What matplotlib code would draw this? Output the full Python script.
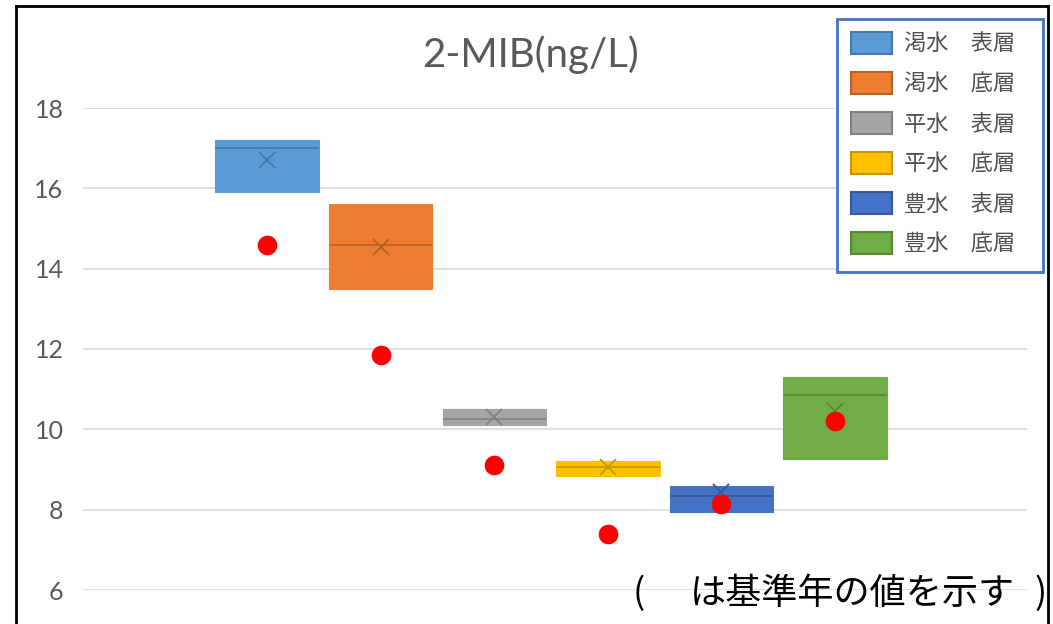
import matplotlib
matplotlib.use('Agg')
import matplotlib.pyplot as plt
import matplotlib.patches as mpatches
from matplotlib.lines import Line2D
import numpy as np

# 2-MIB concentrations by flow regime / depth (ng/L)
labels = ['渇水　表層', '渇水　底層', '平水　表層', '平水　底層', '豊水　表層', '豊水　底層']
q1 = [15.9, 13.5, 10.1, 8.85, 7.95, 9.25]
q3 = [17.2, 15.6, 10.5, 9.2, 8.6, 11.3]
median = [17.0, 14.6, 10.25, 9.05, 8.35, 10.85]
mean = [16.7, 14.55, 10.3, 9.05, 8.45, 10.45]
base_year = [14.6, 11.85, 9.1, 7.4, 8.15, 10.2]
colors = ['#5B9BD5', '#ED7D31', '#A5A5A5', '#FFC000', '#4472C4', '#70AD47']
yticks = [6, 8, 10, 12, 14, 16, 18]

W, H = 1053, 624
fig = plt.figure(figsize=(W / 100, H / 100), dpi=100)
ax = fig.add_axes([83 / W, 1 - 590 / H, (1027 - 83) / W, (590 - 108) / H])

x = np.arange(len(labels))
width = 0.91
dark = [tuple(np.array(matplotlib.colors.to_rgb(c)) * 0.78) for c in colors]

ax.bar(x, np.array(q3) - np.array(q1), bottom=q1, width=width,
       color=colors, edgecolor=colors, linewidth=0.8, zorder=2)
ax.hlines(median, x - width / 2, x + width / 2, colors=dark, linewidth=1.2, zorder=3)
for xi, m, c in zip(x, mean, dark):
    ax.plot(xi, m, marker='x', color=c, markersize=11, markeredgewidth=1.3, zorder=4)
ax.scatter(x, base_year, s=200, color='#FF0000', zorder=5, linewidths=0)

ax.set_xlim(-1.62, 6.69)
ax.set_ylim(6, 18)
ax.set_yticks(yticks)
ax.set_xticks([])
ax.tick_params(axis='y', length=0, pad=14, labelsize=18, labelcolor='#595959')
for lbl in ax.get_yticklabels():
    lbl.set_family('Lato')
ax.grid(axis='y', color='#D9D9D9', linewidth=1.2, zorder=0)
ax.set_axisbelow(True)
for s in ax.spines.values():
    s.set_visible(False)

fig.text(530 / W, 1 - 55 / H, '2-MIB(ng/L)', ha='center', va='center',
         fontsize=29, color='#595959', family='Lato')

# legend entries, boxed in a blue frame that reaches past the plot area
handles = [mpatches.Patch(facecolor=c, edgecolor=d, linewidth=1.5) for c, d in zip(colors, dark)]
leg_box = mpatches.Rectangle((837 / W, 1 - 272 / H), (1043 - 837) / W, (272 - 19) / H,
                             transform=fig.transFigure, facecolor='white',
                             edgecolor='#4472C4', linewidth=2, zorder=9)
fig.add_artist(leg_box)
leg = fig.legend(handles, labels, loc='upper left', bbox_to_anchor=(851 / W, 1 - 32 / H),
                 prop={'family': 'Noto Sans CJK JP', 'size': 16},
                 handlelength=1.85, handleheight=1.13, labelspacing=0.75,
                 borderpad=0, borderaxespad=0, handletextpad=0.55, frameon=False)
leg.set_zorder(10)
for t in leg.get_texts():
    t.set_color('#505050')

# note about the red markers
note_kw = dict(fontsize=26, color='black', va='center', family=['Noto Sans CJK JP', 'DejaVu Sans'])
y_note = 1 - 594 / H
fig.text(633 / W, y_note, '(', ha='left', **note_kw)
fig.text(690 / W, y_note, 'は基準年の値を示す', ha='left', **note_kw)
fig.text(1047 / W, y_note, ')', ha='right', **note_kw)

# outer frame
fx0, fx1, fy = 16 / W, 1048 / W, 1 - 6 / H
for xs, ys in [([fx0, fx0], [0, fy]), ([fx0, fx1], [fy, fy]), ([fx1, fx1], [fy, 0])]:
    fig.add_artist(Line2D(xs, ys, color='black', linewidth=2, transform=fig.transFigure))

fig.savefig('out.png', dpi=100)
